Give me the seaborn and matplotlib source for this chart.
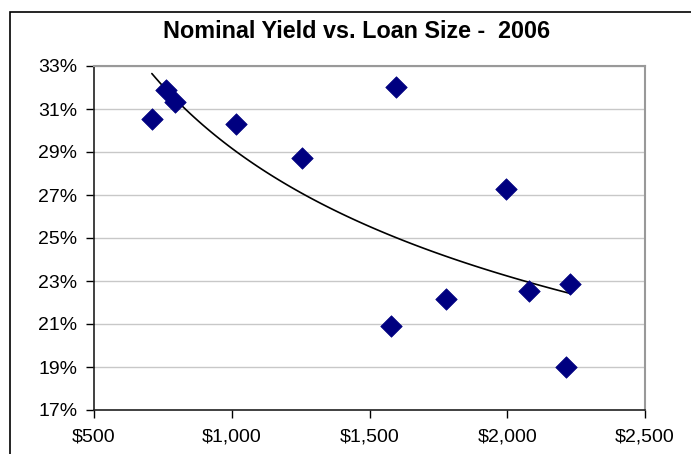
import numpy as np
import pandas as pd
import matplotlib
matplotlib.use("Agg")
import matplotlib.pyplot as plt
import seaborn as sns
from matplotlib.ticker import FuncFormatter
from matplotlib.patches import Rectangle

# Data
loan_size = [710, 761, 794, 1015, 1255, 1596, 1578, 1778, 1995, 2079, 2213, 2228]
nominal_yield = [30.53, 31.88, 31.33, 30.30, 28.72, 32.02, 20.91, 22.16, 27.28, 22.53, 19.00, 22.86]
x_ticks = [500, 1000, 1500, 2000, 2500]
y_ticks = [17, 19, 21, 23, 25, 27, 29, 31, 33]
title = "Nominal Yield vs. Loan Size -  2006"

df = pd.DataFrame({"loan": loan_size, "yield": nominal_yield})

sns.set_theme(style="white")
plt.rcParams["font.family"] = ["Liberation Sans", "DejaVu Sans"]
plt.rcParams["text.color"] = "black"

W, H = 691, 454
fig = plt.figure(figsize=(W / 100, H / 100), dpi=100)
ax = fig.add_axes([94 / W, 1 - 410 / H, (645 - 94) / W, (410 - 66) / H])

# outer chart border
fig.patches.append(Rectangle((10 / W, -0.05), 1.0, 1 - 12 / H + 0.05, transform=fig.transFigure,
                             fill=False, edgecolor="black", linewidth=1.2, zorder=0))

# power trendline fitted on the data
lx = np.log(df["loan"].values)
ly = np.log(df["yield"].values)
d, c = np.polyfit(lx, ly, 1)
xs = np.linspace(min(loan_size), max(loan_size), 100)
trend = pd.DataFrame({"loan": xs, "yield": np.exp(c) * xs ** d})

for yv in y_ticks[1:]:
    ax.axhline(yv, color="#c8c8c8", linewidth=1.0, zorder=0)

sns.lineplot(data=trend, x="loan", y="yield", ax=ax, color="black", linewidth=1.2, zorder=2)
sns.scatterplot(data=df, x="loan", y="yield", ax=ax, marker="D", s=120, color="#000080",
                edgecolor="#000080", linewidth=0.5, zorder=3)

ax.set_xlim(500, 2500)
ax.set_ylim(17, 33)
ax.set_xticks(x_ticks)
ax.set_yticks(y_ticks)
ax.xaxis.set_major_formatter(FuncFormatter(lambda v, p: f"${v:,.0f}"))
ax.yaxis.set_major_formatter(FuncFormatter(lambda v, p: f"{v:.0f}%"))
ax.set_xlabel("")
ax.set_ylabel("")
ax.tick_params(axis="both", which="major", length=6, width=1, color="black",
               labelsize=14, labelcolor="black", direction="out",
               bottom=True, left=True, top=False, right=False)
ax.tick_params(axis="x", pad=7)
ax.tick_params(axis="y", pad=6)
for s in ["left", "bottom"]:
    ax.spines[s].set_color("#202020")
    ax.spines[s].set_linewidth(1.2)
for s in ["top", "right"]:
    ax.spines[s].set_color("#999999")
    ax.spines[s].set_linewidth(1.5)

fig.text(357 / W, 1 - 31 / H, title, ha="center", va="center", fontsize=16.8,
         fontweight="bold", color="black")

fig.savefig("out.png", dpi=100)
